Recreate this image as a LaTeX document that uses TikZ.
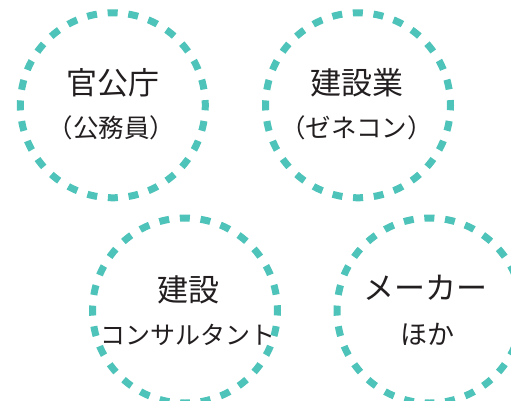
\documentclass[tikz,border=0pt]{standalone}
\usepackage{fontspec}
\setmainfont{Noto Sans CJK JP}
\definecolor{ringteal}{RGB}{78,195,185}
\definecolor{inkdark}{RGB}{35,31,32}
\tikzset{
  ring/.style={draw=ringteal, line width=7pt, dash pattern=on 10pt off 10.75pt, dash phase=5pt},
  title/.style={text=inkdark, font=\fontsize{31}{31}\selectfont, inner sep=0pt},
  sub/.style={text=inkdark, font=\fontsize{25.5}{25.5}\selectfont, inner sep=0pt},
  subb/.style={text=inkdark, font=\fontsize{25}{25}\selectfont, inner sep=0pt},
  subc/.style={text=inkdark, font=\fontsize{27}{27}\selectfont, inner sep=0pt},
}
\begin{document}
\begin{tikzpicture}[x=1pt,y=-1pt]
\useasboundingbox (0,0) rectangle (511,400);
\clip (0,0) rectangle (511,400);
\coordinate (c1) at (112.8,105.3);
\coordinate (c2) at (358,105.3);
\coordinate (c3) at (185,310.5);
\coordinate (c4) at (429.5,310.5);
\draw[ring] (c1) circle (92.5);
\draw[ring] (c2) circle (92.5);
\draw[ring] (c3) circle (92.5);
\draw[ring] (c4) circle (92.5);
\node[title] (t1) at (112.5,83) {官公庁};
\node[sub] (s1) at (111.5,128) {（公務員）};
\node[title] (t2) at (356.5,83) {建設業};
\node[sub] (s2) at (356.5,128) {（ゼネコン）};
\node[title] (t3) at (188,290) {建設};
\node[subb] (s3) at (187.5,335) {コンサルタント};
\node[title] (t4) at (425.5,288) {メーカー};
\node[subc] (s4) at (427.5,334) {ほか};
\end{tikzpicture}
\end{document}
